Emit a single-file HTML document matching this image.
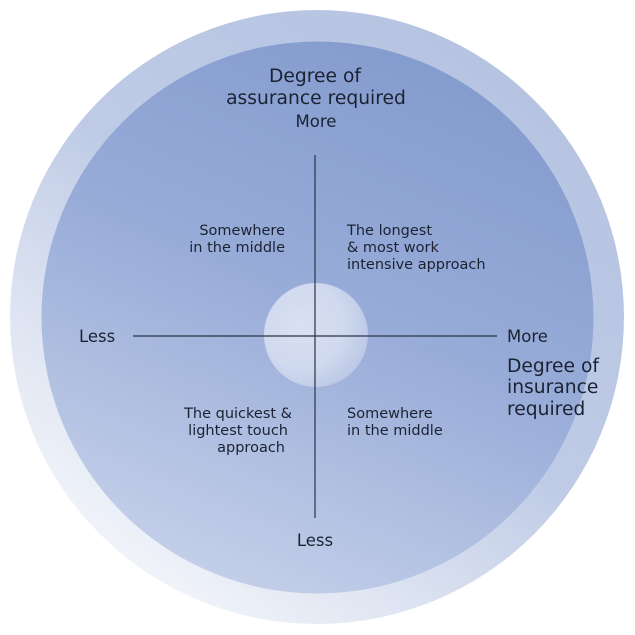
<!DOCTYPE html>
<html>
<head>
<meta charset="utf-8">
<style>
  html, body { margin: 0; padding: 0; background: #ffffff; }
  body { width: 635px; height: 635px; overflow: hidden; }
  svg { display: block; }
  text { font-family: "DejaVu Sans", "Liberation Sans", sans-serif; fill: #1b2232; }
</style>
</head>
<body>
<svg width="635" height="635" viewBox="0 0 635 635" xmlns="http://www.w3.org/2000/svg">
  <defs>
    <linearGradient id="outerG" x1="0.8" y1="0.1" x2="0.15" y2="0.95">
      <stop offset="0" stop-color="#b6c4e2"/>
      <stop offset="0.45" stop-color="#bfcbe6"/>
      <stop offset="0.75" stop-color="#dfe5f2"/>
      <stop offset="1" stop-color="#f6f8fc"/>
    </linearGradient>
    <linearGradient id="innerG" x1="0.7" y1="0.05" x2="0.3" y2="1">
      <stop offset="0" stop-color="#859cce"/>
      <stop offset="0.45" stop-color="#98acd8"/>
      <stop offset="1" stop-color="#c6d1ea"/>
    </linearGradient>
    <radialGradient id="centerG" cx="0.35" cy="0.4" r="0.7">
      <stop offset="0" stop-color="#d8e0f1"/>
      <stop offset="0.6" stop-color="#d0d9ee"/>
      <stop offset="1" stop-color="#b9c6e5"/>
    </radialGradient>
  </defs>

  <circle cx="317" cy="317" r="307" fill="url(#outerG)"/>
  <circle cx="317.5" cy="317.5" r="276" fill="url(#innerG)"/>
  <circle cx="316" cy="335" r="52" fill="url(#centerG)"/>

  <line x1="315" y1="155" x2="315" y2="518" stroke="#2b3346" stroke-width="1.2"/>
  <line x1="133" y1="336" x2="497" y2="336" stroke="#2b3346" stroke-width="1.2"/>

  <text x="315" y="82" font-size="18.7" text-anchor="middle">Degree of</text>
  <text x="316" y="104" font-size="18.7" text-anchor="middle">assurance required</text>
  <text x="316" y="127" font-size="16.5" text-anchor="middle">More</text>

  <text x="285" y="235" font-size="14.5" text-anchor="end">Somewhere</text>
  <text x="285" y="252" font-size="14.5" text-anchor="end">in the middle</text>

  <text x="347" y="235" font-size="14.5">The longest</text>
  <text x="347" y="252" font-size="14.5">&amp; most work</text>
  <text x="347" y="269" font-size="14.5">intensive approach</text>

  <text x="79" y="342" font-size="16.5">Less</text>
  <text x="507" y="342" font-size="16.5">More</text>

  <text x="507" y="372" font-size="18.7">Degree of</text>
  <text x="507" y="393" font-size="18.7">insurance</text>
  <text x="507" y="415" font-size="18.7">required</text>

  <text x="292" y="418" font-size="14.5" text-anchor="end">The quickest &amp;</text>
  <text x="288" y="435" font-size="14.5" text-anchor="end">lightest touch</text>
  <text x="285" y="452" font-size="14.5" text-anchor="end">approach</text>

  <text x="347" y="418" font-size="14.5">Somewhere</text>
  <text x="347" y="435" font-size="14.5">in the middle</text>

  <text x="315" y="546" font-size="16.5" text-anchor="middle">Less</text>
</svg>
</body>
</html>
